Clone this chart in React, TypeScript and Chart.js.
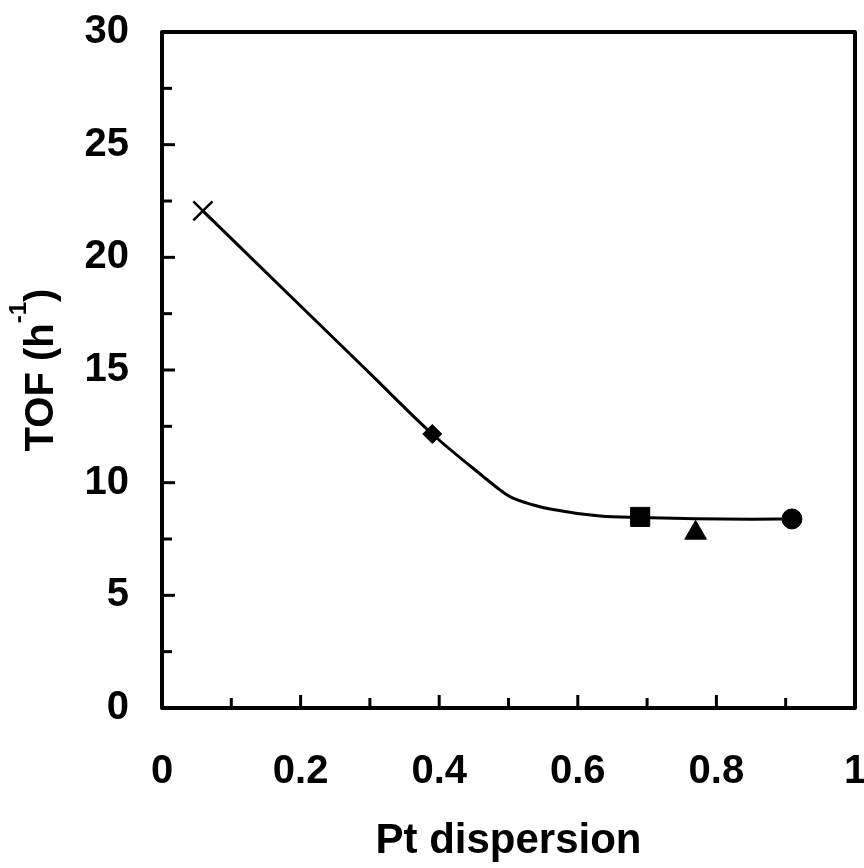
import React, { useEffect, useRef } from "react";
import { Chart, registerables } from "chart.js";
Chart.register(...registerables);

// fitted curve through the data
const curveX = [0.059, 0.2, 0.3, 0.39, 0.4636, 0.4877, 0.502, 0.536, 0.56, 0.632, 0.69, 0.77, 0.85, 0.909];
const curveY = [22.06, 17.84, 14.85, 12.16, 10.27, 9.68, 9.38, 9.01, 8.83, 8.52, 8.45, 8.4, 8.38, 8.39];

// individual catalysts (markers)
const markerX = [0.059, 0.39, 0.69, 0.77, 0.909];
const markerY = [22.06, 12.16, 8.48, 7.77, 8.39];
const markerStyles = ["crossRot", "rectRot", "rect", "triangle", "circle"];
const markerRadius = [13.5, 9.5, 13.5, 12.5, 10];

const yMajorTicks = [0, 5, 10, 15, 20, 25, 30];
const yMinorTicks = [2.5, 7.5, 12.5, 17.5, 22.5, 27.5];
const xMajorTicks = [0, 0.2, 0.4, 0.6, 0.8, 1];
const xMinorTicks = [0.1, 0.3, 0.5, 0.7, 0.9];

const xTitle = "Pt dispersion";
const yTitleMain = "TOF (h";
const yTitleSup = "-1";
const yTitleEnd = ")";

const FONT = "'Liberation Sans', Arial, sans-serif";

export default function App() {
  const ref = useRef<HTMLCanvasElement | null>(null);
  useEffect(() => {
    if (!ref.current) return;
    const framePlugin = {
      id: "framePlugin",
      afterDraw(chart: any) {
        const { ctx, chartArea } = chart;
        const xs = chart.scales.x;
        const ys = chart.scales.y;
        const { left, right, top, bottom } = chartArea;
        ctx.save();
        ctx.strokeStyle = "#000";
        ctx.lineWidth = 3;
        ctx.lineCap = "butt";
        const drawX = (v: number, len: number) => {
          const px = xs.getPixelForValue(v);
          ctx.beginPath();
          ctx.moveTo(px, bottom);
          ctx.lineTo(px, bottom - len);
          ctx.stroke();
        };
        const drawY = (v: number, len: number) => {
          const py = ys.getPixelForValue(v);
          ctx.beginPath();
          ctx.moveTo(left, py);
          ctx.lineTo(left + len, py);
          ctx.stroke();
        };
        xMajorTicks.forEach((v) => drawX(v, 13));
        xMinorTicks.forEach((v) => drawX(v, 10));
        yMajorTicks.forEach((v) => drawY(v, 13));
        yMinorTicks.forEach((v) => drawY(v, 10));
        ctx.lineWidth = 4;
        ctx.lineJoin = "round";
        ctx.strokeRect(left, top, right - left, bottom - top);
        // y title with superscript
        ctx.fillStyle = "#000";
        ctx.textBaseline = "alphabetic";
        ctx.textAlign = "left";
        const mainFont = `bold 40px ${FONT}`;
        const supFont = `bold 24px ${FONT}`;
        ctx.font = mainFont;
        const w1 = ctx.measureText(yTitleMain).width;
        const w3 = ctx.measureText(yTitleEnd).width;
        ctx.font = supFont;
        const w2 = ctx.measureText(yTitleSup).width;
        const total = w1 + w2 + w3;
        ctx.translate(53, (top + bottom) / 2);
        ctx.rotate(-Math.PI / 2);
        let x0 = -total / 2;
        ctx.font = mainFont;
        ctx.fillText(yTitleMain, x0, 0);
        x0 += w1;
        ctx.font = supFont;
        ctx.fillText(yTitleSup, x0, -27);
        x0 += w2;
        ctx.font = mainFont;
        ctx.fillText(yTitleEnd, x0, 0);
        ctx.restore();
      },
    };

    const markerDatasets = markerX.map((x, i) => ({
      type: "scatter" as const,
      label: markerStyles[i],
      data: [{ x, y: markerY[i] }],
      pointStyle: markerStyles[i],
      pointRadius: markerRadius[i],
      pointBackgroundColor: "#000",
      pointBorderColor: "#000",
      pointBorderWidth: markerStyles[i] === "crossRot" ? 2.5 : 1,
      showLine: false,
    }));

    const chart = new Chart(ref.current, {
      type: "scatter",
      data: {
        datasets: [
          {
            type: "line" as const,
            label: "fit",
            data: curveX.map((x, i) => ({ x, y: curveY[i] })),
            borderColor: "#000",
            borderWidth: 3,
            pointRadius: 0,
            fill: false,
            cubicInterpolationMode: "monotone",
            showLine: true,
          },
          ...markerDatasets,
        ] as any,
      },
      options: {
        animation: false,
        responsive: true,
        maintainAspectRatio: false,
        layout: { padding: { left: 0, right: 9, top: 32, bottom: 0 } },
        plugins: { legend: { display: false }, tooltip: { enabled: false } },
        scales: {
          x: {
            type: "linear",
            min: 0,
            max: 1,
            grid: { display: false, drawTicks: false },
            border: { display: false },
            ticks: {
              stepSize: 0.2,
              padding: 40,
              color: "#000",
              font: { family: FONT, size: 40, weight: "bold" },
              maxRotation: 0,
              callback: (v: any) => String(Number(Number(v).toFixed(2))),
            },
            title: {
              display: true,
              text: xTitle,
              color: "#000",
              font: { family: FONT, size: 42, weight: "bold" },
              padding: { top: 0, bottom: 1 },
            },
            afterFit(scale: any) {
              scale.height = 160;
              scale.paddingLeft = 0;
              scale.paddingRight = 0;
            },
          },
          y: {
            type: "linear",
            min: 0,
            max: 30,
            grid: { display: false, drawTicks: false },
            border: { display: false },
            ticks: {
              stepSize: 5,
              padding: 33,
              color: "#000",
              font: { family: FONT, size: 40, weight: "bold" },
            },
            afterFit(scale: any) {
              scale.width = 162;
              scale.paddingTop = 0;
              scale.paddingBottom = 0;
            },
          },
        },
      } as any,
      plugins: [framePlugin],
    });
    return () => chart.destroy();
  }, []);

  return (
    <div style={{ position: "absolute", left: 0, top: 0, width: 864, height: 868, overflow: "hidden", background: "#fff" }}>
      <div style={{ position: "relative", width: 871, height: 868 }}>
        <canvas ref={ref} />
      </div>
    </div>
  );
}
